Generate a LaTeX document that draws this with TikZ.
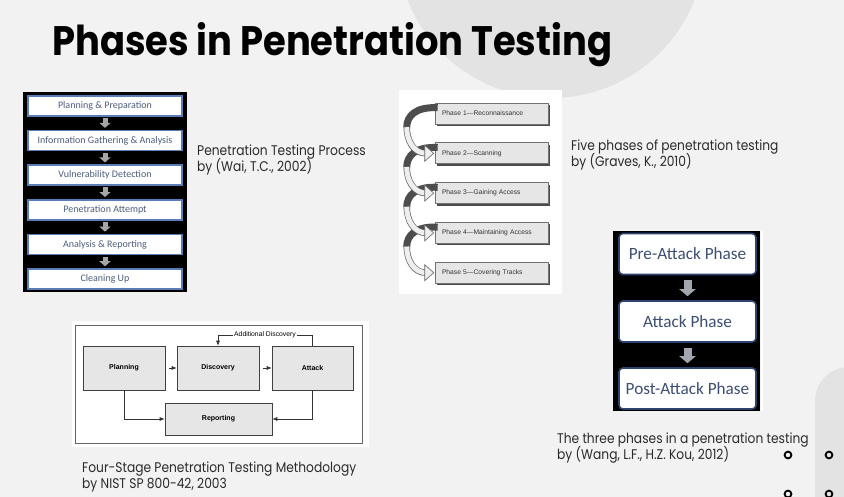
\documentclass[tikz,border=0pt]{standalone}
\usepackage{fontspec}
\usepackage{graphicx}
\setmainfont{Poppins}
\newfontfamily\capfont[FakeStretch=0.875]{Poppins}
\newfontfamily\calfont{Carlito}
\newfontfamily\helvfont{Liberation Sans}
\usetikzlibrary{arrows.meta,calc,shadows}

\definecolor{pagebg}{HTML}{F2F2F2}
\definecolor{decogray}{HTML}{E3E3E3}
\definecolor{captext}{HTML}{2B2B2B}
\definecolor{stepblue}{HTML}{5B7DB5}
\definecolor{steptext}{HTML}{4E5D7A}
\definecolor{stepgray}{HTML}{A6A6A6}
\definecolor{phaseblue}{HTML}{2E4470}
\definecolor{phasetext}{HTML}{3E4F72}
\definecolor{phasearrow}{HTML}{A2A6AE}
\definecolor{boxgray}{HTML}{E6E6E6}
\definecolor{ribbondark}{HTML}{4D4D4D}
\definecolor{ribbonlight}{HTML}{EEEEEE}

\tikzset{
  caption/.style={anchor=base west, inner sep=0pt, text=captext,
    font=\capfont\fontsize{14}{16}\selectfont},
  stepbox/.style={draw=stepblue, line width=1.5pt, fill=white,
    minimum width=154pt, minimum height=20pt, inner sep=0pt,
    text=steptext, font=\calfont\fontsize{10}{11}\selectfont},
  steparrow/.style={draw=stepgray, line width=5pt,
    -{Triangle[width=11pt,length=5pt]}, shorten <=1.5pt, shorten >=2pt},
  phasebox/.style={draw=phaseblue, line width=1.6pt, fill=white,
    rounded corners=4pt, minimum width=137pt, minimum height=41pt,
    inner sep=0pt, text=phasetext, font=\calfont\fontsize{17.2}{18}\selectfont},
  phasearrowstyle/.style={draw=phasearrow, line width=8pt,
    -{Triangle[width=16pt,length=7pt]}, shorten <=5pt, shorten >=4pt},
  grayphase/.style={draw=black!55, line width=0.6pt, fill=boxgray,
    text width=99pt, align=left, inner xsep=7pt, minimum height=21pt,
    font=\helvfont\fontsize{6.7}{8}\selectfont, text=black!80,
    drop shadow={shadow xshift=2pt, shadow yshift=-2pt,
      fill=black!70, opacity=1}},
  stagebox/.style={draw=black!75, line width=0.6pt, fill=boxgray,
    inner sep=0pt, font=\helvfont\bfseries\fontsize{7}{8}\selectfont},
  stagearrow/.style={draw=black!80, line width=0.6pt,
    -{Latex[length=5pt,width=4pt]}},
  ring/.style={draw=black, line width=1.8pt},
}

\begin{document}
\begin{tikzpicture}[x=1pt, y=-1pt]
\useasboundingbox (0,0) rectangle (844,497);
\fill[pagebg] (0,0) rectangle (844,497);

% decorative background shapes
\begin{scope}
  \clip (0,0) rectangle (844,497);
  \fill[decogray] (551,-56) circle (154pt);
  \fill[decogray, rounded corners=34pt] (815,540) -- (815,367) -- (900,367) -- (900,540) -- cycle;
\end{scope}

% title
\node[anchor=base west, inner sep=0pt] (title) at (52,56)
  {\resizebox{560pt}{33pt}{\bfseries\fontsize{44}{44}\selectfont Phases in Penetration Testing}};

% ---------- Penetration Testing Process (Wai) ----------
\fill[black] (23,92) rectangle (187,292);
\foreach \t [count=\k from 0] in {Planning \& Preparation,
    Information Gathering \& Analysis, Vulnerability Detection,
    Penetration Attempt, Analysis \& Reporting, Cleaning Up}
  \node[stepbox] (s\k) at (105,{106+34.6*\k}) {\t};
\foreach \a [evaluate=\a as \b using int(\a+1)] in {0,...,4}
  \draw[steparrow] (s\a.south) -- (s\b.north);

\node[caption] (c1a) at (197,156) {Penetration Testing Process};
\node[caption] (c1b) at (197,172) {by (Wai, T.C., 2002)};

% ---------- Five phases (Graves) ----------
\fill[white] (399,90) rectangle (562,294);
\foreach \t [count=\k] in {Phase 1—Reconnaissance, Phase 2—Scanning,
    Phase 3—Gaining Access, Phase 4—Maintaining Access,
    Phase 5—Covering Tracks}
  \node[grayphase] (p\k) at (491.5,{113.5+39.8*(\k-1)}) {\t};

% curled ribbons leading from one phase to the next
\foreach \a in {1,...,4}{
  \draw[ribbondark, line width=7pt]
    ($(p\a.north west)+(3,5)$) .. controls +(-22,-1) and +(0,-12) .. ($(p\a.north west)+(-28,25)$);
}
\foreach \a [evaluate=\a as \b using int(\a+1)] in {1,...,4}{
  \draw[black!60, line width=6.4pt]
    ($(p\a.north west)+(-28,24)$) .. controls +(0,14) and +(-12,0) .. ($(p\b.west)+(-9,0)$);
  \draw[ribbonlight, line width=5pt]
    ($(p\a.north west)+(-28,24.5)$) .. controls +(0,14) and +(-12,0) .. ($(p\b.west)+(-8.5,0)$);
  \filldraw[fill=ribbonlight, draw=black!60, line width=0.6pt]
    ($(p\b.west)+(-10,-8)$) -- ($(p\b.west)+(-1,0)$) -- ($(p\b.west)+(-10,8)$) -- cycle;
}

\node[caption] (c2a) at (571,151) {Five phases of penetration testing};
\node[caption] (c2b) at (571,167) {by (Graves, K., 2010)};

% ---------- Three phases (Wang & Kou) ----------
\fill[white] (761,231) rectangle (763,411);
\fill[black] (613,231) rectangle (760,411);
\node[phasebox] (w1) at (687.5,254) {Pre-Attack Phase};
\node[phasebox] (w2) at (687.5,321.5) {Attack Phase};
\node[phasebox] (w3) at (687.5,388.5) {Post-Attack Phase};
\draw[phasearrowstyle] (w1.south) -- (w2.north);
\draw[phasearrowstyle] (w2.south) -- (w3.north);

\node[caption] (c3a) at (557,443) {The three phases in a penetration testing};
\node[caption] (c3b) at (557,459) {by (Wang, L.F., H.Z. Kou, 2012)};

% ---------- Four-stage methodology (NIST) ----------
\fill[white] (72,321) rectangle (369,447);
\draw[black!60, line width=0.6pt] (75,325) rectangle (362,443);
\node[stagebox, minimum width=82pt, minimum height=44pt] (plan) at (124,368) {Planning};
\node[stagebox, minimum width=82pt, minimum height=44pt] (disc) at (218,368) {Discovery};
\node[stagebox, minimum width=81pt, minimum height=44pt] (att) at (312.5,368) {Attack};
\node[stagebox, minimum width=107pt, minimum height=32pt] (rep) at (218.5,419) {Reporting};
\draw[stagearrow, shorten <=4pt] (plan.east) -- (disc.west);
\draw[stagearrow, shorten <=4pt] (disc.east) -- (att.west);
\draw[stagearrow] (att.north) |- (265,335) -| (disc.north);
\node[fill=white, inner xsep=1pt, inner ysep=0.5pt,
  font=\helvfont\fontsize{6.8}{8}\selectfont] (addl) at (265,335) {Additional Discovery};
\draw[stagearrow] (plan.south) |- (rep.west);
\draw[stagearrow] (att.south) |- (rep.east);

\node[caption] (c4a) at (82,472) {Four-Stage Penetration Testing Methodology};
\node[caption] (c4b) at (82,488) {by NIST SP 800-42, 2003};

% small rings in the corner
\draw[ring] (788,455) circle (3.4pt);
\draw[ring] (829,455) circle (3.4pt);
\draw[ring] (788,494) circle (3.4pt);
\draw[ring] (829,494) circle (3.4pt);
\end{tikzpicture}
\end{document}
